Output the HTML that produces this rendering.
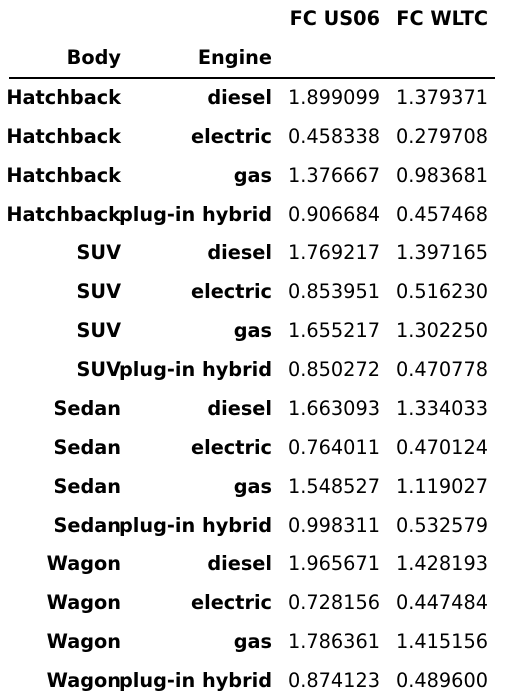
<!DOCTYPE html>
<html><head><meta charset="utf-8">
<style>
html,body{margin:0;padding:0;background:#fff;}
#wrap{position:relative;width:505px;height:700px;overflow:hidden;font-family:"DejaVu Sans","Liberation Sans",sans-serif;font-size:19.3px;color:#000;}
.c{position:absolute;white-space:nowrap;line-height:20px;text-align:right;}
.b{font-weight:bold;}
#rule{position:absolute;left:9px;top:77px;width:486px;height:2px;background:#000;}
</style></head>
<body>
<div id="wrap">
<div id="rule"></div>
</div>
<script>
const bodies=["Hatchback","Hatchback","Hatchback","Hatchback","SUV","SUV","SUV","SUV","Sedan","Sedan","Sedan","Sedan","Wagon","Wagon","Wagon","Wagon"];
const engines=["diesel","electric","gas","plug-in hybrid","diesel","electric","gas","plug-in hybrid","diesel","electric","gas","plug-in hybrid","diesel","electric","gas","plug-in hybrid"];
const us06=["1.899099","0.458338","1.376667","0.906684","1.769217","0.853951","1.655217","0.850272","1.663093","0.764011","1.548527","0.998311","1.965671","0.728156","1.786361","0.874123"];
const wltc=["1.379371","0.279708","0.983681","0.457468","1.397165","0.516230","1.302250","0.470778","1.334033","0.470124","1.119027","0.532579","1.428193","0.447484","1.415156","0.489600"];
const wrap=document.getElementById('wrap');
function cell(text,right,cy,bold,name){
  const d=document.createElement('div');
  d.className='c'+(bold?' b':'');
  d.textContent=text;
  d.style.right=(505-right)+'px';
  d.style.top=(cy-10)+'px';
  
  
  wrap.appendChild(d);
}
cell("FC US06",380,19,true,'header-fc-us06');
cell("FC WLTC",488,19,true,'header-fc-wltc');
cell("Body",121,58,true,'header-body');
cell("Engine",272,58,true,'header-engine');
const y0=98,dy=38.87;
for(let i=0;i<bodies.length;i++){
  const y=y0+i*dy;
  cell(bodies[i],121,y,true,'body-label');
  cell(engines[i],272,y,true,'engine-label');
  cell(us06[i],380,y,false,'fc-us06-value');
  cell(wltc[i],488,y,false,'fc-wltc-value');
}
</script>
</body></html>
